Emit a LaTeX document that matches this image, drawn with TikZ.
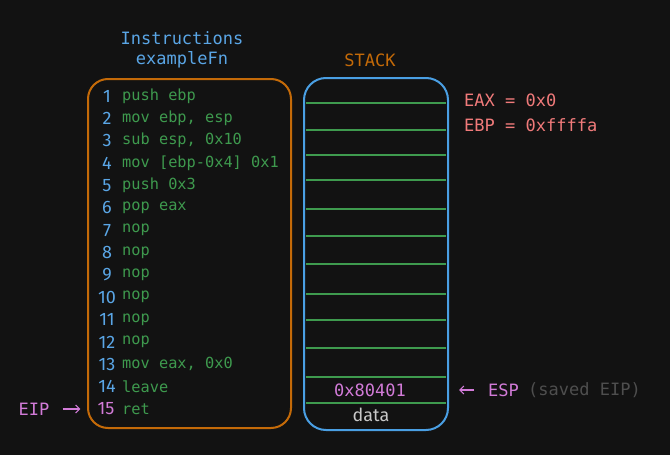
\documentclass[tikz,border=0pt]{standalone}
\usepackage{fontspec}
\setmonofont{DejaVu Sans Mono}
\newfontfamily\handfont{Fira Sans}
\usetikzlibrary{positioning,arrows.meta}
\definecolor{bgdark}{HTML}{121212}
\definecolor{boxorange}{HTML}{C46A08}
\definecolor{boxblue}{HTML}{4A9FE3}
\definecolor{codegreen}{HTML}{3E9A4E}
\definecolor{numblue}{HTML}{5AA6E6}
\definecolor{ptrpink}{HTML}{D27BD8}
\definecolor{regred}{HTML}{F07A7A}
\definecolor{notegrey}{HTML}{4E4E4E}
\definecolor{datagrey}{HTML}{C8C8C8}
\tikzset{
	title/.style = {font=\ttfamily\fontsize{17}{17}\selectfont, inner sep=0pt},
	label/.style = {font=\ttfamily\fontsize{17}{17}\selectfont, inner sep=0pt},
	instr/.style = {anchor=west, font=\ttfamily\fontsize{15.3}{15}\selectfont, text=codegreen, inner sep=0pt},
	lnum/.style  = {font=\handfont\fontsize{18}{18}\selectfont, text=numblue, inner sep=0pt},
	slot/.style  = {draw=codegreen, line width=2.6pt},
	ptr/.style   = {draw=ptrpink, line width=1.1pt, -{Straight Barb[length=4pt,width=8pt]}}
}

\begin{document}
\begin{tikzpicture}[x=1pt,y=-1pt]
\fill[bgdark] (0,0) rectangle (670,455);
\useasboundingbox (0,0) rectangle (670,455);

% titles
\node [title, text=numblue] (insttitle) at (182,38) {Instructions};
\node [title, text=numblue] (fnname) at (182,60) {exampleFn};
\node [title, text=boxorange] (stacktitle) at (370,60) {STACK};

% boxes
\node [draw=boxorange, line width=2pt, rounded corners=20pt, minimum width=203pt, minimum height=349pt] (instbox) at (189.5,253.5) {};
\node [draw=boxblue, line width=2pt, rounded corners=22pt, minimum width=144pt, minimum height=352pt] (stack) at (376,254) {};

% stack slots
\foreach \y in {103,130,155,180,209,236,264,294,320,348,377,403}
	\draw [slot] (306,\y) -- (446,\y);

% instructions
\foreach \txt [count=\i] in {{push ebp},{mov ebp, esp},{sub esp, 0x10},{mov [ebp-0x4] 0x1},{push 0x3},{pop eax},{nop},{nop},{nop},{nop},{nop},{nop},{mov eax, 0x0},{leave}}
{
	\node [lnum] (num\i) at (107,{96+(\i-1)*22.36}) {\i};
	\node [instr] (ins\i) at (122,{96+(\i-1)*22.36}) {\txt};
}
\node [lnum, text=ptrpink] (num15) at (106,409) {15};
\node [instr] (ins15) at (122,409) {ret};

% registers
\node [label, text=regred, anchor=west] (eax) at (464,100) {EAX = 0x0};
\node [label, text=regred, anchor=west] (ebp) at (464,125) {EBP = 0xffffa};

% stack content
\node [label, text=ptrpink] (saved) at (370,390) {0x80401};
\node [font=\handfont\fontsize{18}{18}\selectfont, text=datagrey, inner sep=0pt] (data) at (371,415) {data};

% pointers
\node [label, text=ptrpink] (eip) at (34,409) {EIP};
\draw [ptr, shorten <=13pt, shorten >=17pt] (eip) -- (num15);
\node [label, text=ptrpink, anchor=west] (esp) at (488,390) {ESP};
\node [label, text=notegrey, anchor=west] (note) at (528,390) {(saved EIP)};
\draw [ptr, shorten <=14pt, shorten >=10pt] (esp.west) -- (stack.east |- esp.west);
\end{tikzpicture}
\end{document}
